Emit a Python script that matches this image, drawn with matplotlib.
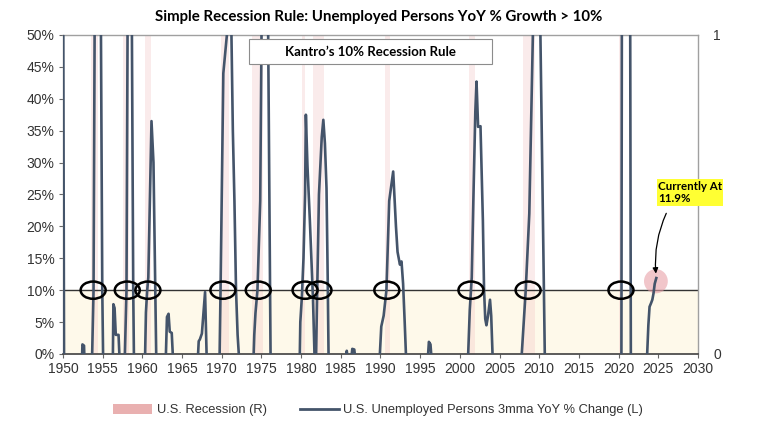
import numpy as np
import matplotlib.pyplot as plt
from matplotlib.patches import Ellipse, Patch, Rectangle
from matplotlib.lines import Line2D
from matplotlib.ticker import FuncFormatter

# U.S. unemployed persons, 3mma YoY % change (clipped at 0 and 50)
years = [1950.0, 1950.15,
         1952.3, 1952.45, 1952.65, 1952.8,
         1953.5, 1953.85, 1954.05, 1954.7, 1954.95, 1955.2,
         1956.25, 1956.35, 1956.5, 1956.65, 1957.0, 1957.2,
         1957.7, 1958.0, 1958.2, 1958.6, 1958.85, 1959.1,
         1960.3, 1960.45, 1960.6, 1960.75, 1961.15, 1961.25, 1961.4, 1961.8,
         1962.9, 1963.1, 1963.3, 1963.45, 1963.7, 1963.95,
         1966.9, 1967.1, 1967.25, 1967.5, 1967.9, 1968.15,
         1969.7, 1969.85, 1970.0, 1970.2, 1970.5, 1970.8, 1971.0, 1971.2, 1971.4,
         1971.6, 1971.8, 1972.0, 1972.3,
         1973.95, 1974.1, 1974.25, 1974.5, 1974.85, 1975.0, 1975.4, 1975.85, 1976.0,
         1976.15, 1976.3,
         1979.8, 1979.9, 1980.1, 1980.3, 1980.5, 1980.6, 1980.8, 1981.1, 1981.5, 1981.75,
         1981.85, 1982.0, 1982.25, 1982.6, 1982.8, 1983.0, 1983.2, 1983.35, 1983.5,
         1985.6, 1985.75, 1985.9, 1986.3, 1986.45, 1986.7, 1986.85,
         1989.8, 1990.0, 1990.1, 1990.4, 1990.75, 1991.1, 1991.6, 1991.95, 1992.15,
         1992.45, 1992.65, 1992.85, 1993.05, 1993.3,
         1995.95, 1996.1, 1996.3, 1996.45,
         2000.9, 2001.05, 2001.25, 2001.5, 2001.7, 2001.95, 2002.1, 2002.3, 2002.6,
         2002.9, 2003.05, 2003.2, 2003.35, 2003.55, 2003.8, 2003.95, 2004.2,
         2007.65, 2007.8, 2008.3, 2008.75, 2009.2, 2009.6, 2010.15, 2010.45, 2010.7, 2010.85,
         2020.35, 2020.42, 2021.45, 2021.55,
         2023.45, 2023.6, 2023.75, 2023.9, 2024.1, 2024.25, 2024.4, 2024.55, 2024.75]
growth = [70, -10,
          -5, 1.5, 1.3, -5,
          -10, 10, 70, 70, 10, -15,
          -5, 7.8, 7.2, 3.0, 3.0, -3,
          -5, 10, 70, 70, 10, -20,
          -3, 6.5, 9.8, 12, 36.5, 34, 30, -5,
          -3, 5.8, 6.3, 3.5, 3.3, -3,
          -3, 2.0, 2.3, 3.2, 9.7, -3,
          -3, 10, 25, 44, 48, 52, 55, 52, 35,
          24, 10, 3, -3,
          -3, 3, 6.4, 10, 24, 50, 100, 50, 24,
          0, -10,
          -3, 5, 9, 15, 25, 37.5, 29.5, 21, 8.5, -3,
          -3, 8, 25, 34, 36.7, 33, 26, 12, -5,
          -1, 0.5, -1, -1, 0.8, 0.7, -1,
          -3, 2, 4.3, 6, 10, 24, 28.6, 20, 16,
          14, 14.5, 11, 5, -3,
          -1, 1.9, 1.5, -1,
          -3, 0, 6.9, 12, 24, 38, 42.7, 35.6, 35.7,
          21, 10, 5.5, 4.5, 6, 8.5, 6, -3,
          -3, 0, 10, 22, 50, 100, 50, 23, 0, -5,
          -5, 60, 60, -5,
          -3, 0, 4.5, 7.4, 8, 8.5, 9.5, 11, 11.9]

# NBER recessions
rec_start = [1953.55, 1957.6, 1960.3, 1969.95, 1973.85, 1980.05, 1981.55, 1990.55, 2001.2, 2007.95, 2020.1]
rec_end = [1954.4, 1958.3, 1961.1, 1970.9, 1975.2, 1980.55, 1982.9, 1991.2, 2001.9, 2009.5, 2020.35]

# years where the series crossed the 10% line (circled)
cross_years = [1953.8, 1958.1, 1960.7, 1970.15, 1974.6, 1980.5, 1982.25, 1990.8, 2001.4, 2008.6, 2020.3]

threshold = 10
current = 11.9

line_col = '#44546A'
narrow = ['Liberation Sans Narrow', 'Liberation Sans', 'DejaVu Sans']
bold_font = ['Lato', 'DejaVu Sans']

fig = plt.figure(figsize=(7.58, 4.40), dpi=100)
ax = fig.add_axes([0.0831, 0.1955, 0.8377, 0.725])

ax.axhspan(0, threshold, color='#FEF9EA', zorder=0)
for s, e in zip(rec_start, rec_end):
    ax.axvspan(s, e, color='#F3C6C6', alpha=0.35, lw=0, zorder=1)
ax.axhline(threshold, color='#333333', lw=1.0, zorder=2)
ax.plot(years, growth, color=line_col, lw=1.9, zorder=3, solid_joinstyle='round')

for cy in cross_years:
    ax.add_patch(Ellipse((cy, threshold), 3.15, 2.7, fill=False, ec='black', lw=1.8, zorder=5))

ax.add_patch(Ellipse((2024.7, 11.4), 3.0, 3.8, color='#E8A0A8', alpha=0.6, lw=0, zorder=2))

ax.set_xlim(1950, 2030)
ax.set_ylim(0, 50)
ax.set_xticks(np.arange(1950, 2031, 5))
ax.set_yticks(np.arange(0, 51, 5))
ax.yaxis.set_major_formatter(FuncFormatter(lambda v, p: '%d%%' % v))
ax.tick_params(axis='both', direction='out', length=3, width=0.8, color='#666666',
               labelsize=10, labelcolor='#333333', pad=3)
for lab in ax.get_xticklabels() + ax.get_yticklabels():
    lab.set_family(narrow)
for side in ['top', 'right', 'left']:
    ax.spines[side].set_color('#A0A0A0')
    ax.spines[side].set_linewidth(1.0)
ax.spines['bottom'].set_color('#404040')
ax.spines['bottom'].set_linewidth(1.2)

ax2 = ax.twinx()
ax2.set_ylim(0, 1)
ax2.set_yticks([0, 1])
ax2.set_yticklabels(['0', '1'], family=narrow)
ax2.tick_params(axis='y', length=0, labelsize=10, labelcolor='#333333', pad=11)
for s in ax2.spines.values():
    s.set_visible(False)

fig.text(0.5, 0.962, 'Simple Recession Rule: Unemployed Persons YoY % Growth > 10%',
         ha='center', va='center', fontsize=10.8, fontweight='bold', family=bold_font)

ax.add_patch(Rectangle((0.293, 0.909), 0.383, 0.078, transform=ax.transAxes,
                       fc='white', ec='#8C8C8C', lw=0.8, zorder=6))
ax.text(0.4845, 0.948, 'Kantro\u2019s 10% Recession Rule', transform=ax.transAxes,
        ha='center', va='center', fontsize=9.5, fontweight='bold', family=bold_font, zorder=7)

ax.annotate('Currently At\n%.1f%%' % current, xy=(2024.7, 12.6), xytext=(2024.95, 25.3),
            ha='left', va='center', fontsize=8.3, fontweight='bold', family=bold_font,
            bbox=dict(boxstyle='square,pad=0.12', fc='#FFFF33', ec='none'),
            arrowprops=dict(arrowstyle='-|>', color='black', lw=0.9, mutation_scale=8,
                            connectionstyle='arc3,rad=0.15', shrinkA=6, shrinkB=0,
                            relpos=(0.2, 0.0)),
            zorder=7)

handles = [Patch(color='#E9B0B0', lw=0),
           Line2D([0], [0], color=line_col, lw=2)]
leg = fig.legend(handles, ['U.S. Recession (R)', 'U.S. Unemployed Persons 3mma YoY % Change (L)'],
                 loc='center', bbox_to_anchor=(0.499, 0.068), ncol=2, frameon=False,
                 prop={'family': narrow, 'size': 9.3}, handlelength=3.0, handleheight=0.8,
                 columnspacing=2.6, handletextpad=0.35)
for t in leg.get_texts():
    t.set_color('#333333')

fig.savefig('out.png', dpi=100)
